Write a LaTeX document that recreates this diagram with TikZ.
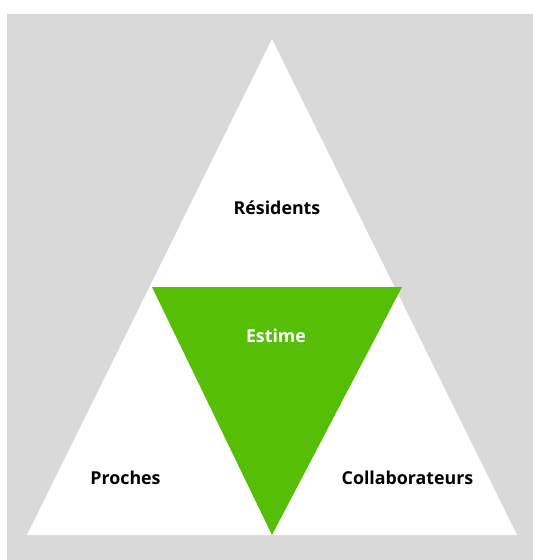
\documentclass[tikz,border=0pt]{standalone}
\usepackage{fontspec}
\setmainfont{Open Sans}
\definecolor{estimegreen}{HTML}{57BE08}
\definecolor{backgray}{HTML}{D9D9D9}
\tikzset{
  label/.style={font=\bfseries\fontsize{17.8}{20}\selectfont, text=black},
}
\begin{document}
\begin{tikzpicture}[x=1pt,y=-1pt]
    \useasboundingbox (0,0) rectangle (533,560);
    \fill[backgray] (7,14) rectangle (533,560);
    \coordinate (top) at (272,39);
    \coordinate (bl) at (27,535);
    \coordinate (br) at (517,535);
    \coordinate (ml) at (152,287);
    \coordinate (mr) at (402,287);
    \fill[white] (top) -- (bl) -- (br) -- cycle;
    \fill[estimegreen] (ml) -- (mr) -- (272,535) -- cycle;
    \node[label] (res) at (277,208) {Résidents};
    \node[label,text=white] (est) at (276,336) {Estime};
    \node[label] (pro) at (125.5,478) {Proches};
    \node[label] (col) at (407.5,478) {Collaborateurs};
  \end{tikzpicture}
\end{document}
